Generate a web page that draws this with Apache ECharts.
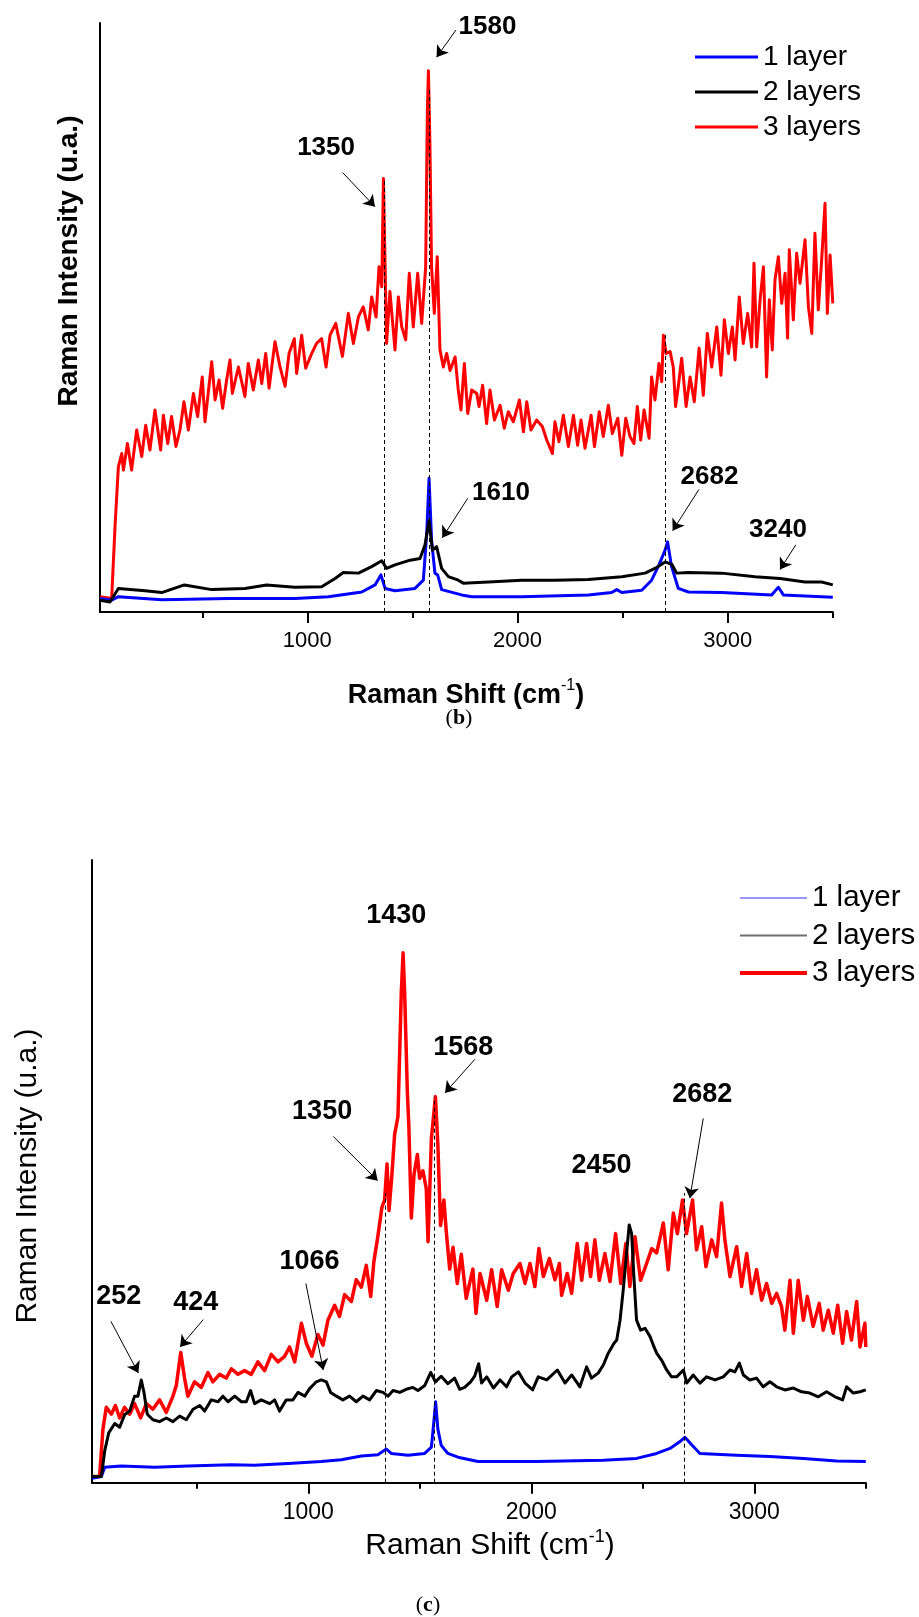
<!DOCTYPE html>
<html>
<head>
<meta charset="utf-8">
<title>Raman spectra (b) and (c)</title>
<script src="https://cdn.jsdelivr.net/npm/echarts@6/dist/echarts.min.js"></script>
<style>
  html, body { margin: 0; padding: 0; background: #fff; }
  #chart { width: 919px; height: 1617px; }
</style>
</head>
<body>
<div id="chart"></div>
<script>
  // ---------- data (x: Raman shift cm-1, y: intensity, arbitrary 0-100) ----------
  const seriesNames = ['1 layer', '2 layers', '3 layers'];
  const majorTicks = [1000, 2000, 3000];
  const minorTicks = [500, 1500, 2500, 3500];

  // panel (b)
  const b1Layer = [[13.5,2.3],[69,2],[101,2.6],[307,2.1],[624,2.3],[941,2.3],[1100,2.6],[1259,3.4],[1322,4.6],[1350,6.3],[1370,4],[1417,3.6],[1512,4],[1552,5.4],[1568,13.4],[1579,22.7],[1591,12.2],[1607,6.6],[1620,6.3],[1639,3.8],[1734,2.9],[1782,2.6],[2020,2.6],[2337,2.9],[2448,3.3],[2472,3.8],[2496,3.3],[2591,3.7],[2638,5.4],[2673,8],[2702,10.5],[2714,11.9],[2733,7.7],[2765,4],[2813,3.4],[2971,3.3],[3209,2.9],[3241,4.2],[3265,2.9],[3368,2.7],[3500,2.5]];
  const b2Layers = [[13.5,2],[61,1.7],[101,4],[228,3.6],[307,3.3],[415,4.6],[545,3.8],[703,4],[806,4.6],[941,4.2],[1068,4.3],[1132,5.7],[1171,6.7],[1243,6.6],[1306,7.7],[1354,8.7],[1377,7.4],[1417,8],[1489,8.8],[1536,9.1],[1560,11.4],[1579,15.5],[1595,10.5],[1615,11.1],[1639,7.4],[1671,6],[1718,5.4],[1742,4.9],[1861,5.1],[2020,5.4],[2178,5.4],[2337,5.5],[2496,6],[2607,6.6],[2654,7.4],[2702,8.5],[2734,8.1],[2757,6.6],[2813,6.7],[2971,6.6],[3130,6],[3249,5.7],[3368,5.1],[3447,5.1],[3500,4.6]];
  const b3Layers = [[13.5,2.6],[69,2.3],[85,14.5],[101,24.7],[117,26.9],[125,24.1],[144,28.6],[164,24.1],[188,30.9],[212,26.4],[231,31.7],[251,27.5],[275,34.3],[302,27.5],[315,33.4],[336,28.6],[354,33.2],[375,28.1],[394,30.9],[413,35.7],[434,30.9],[458,37.1],[478,33.2],[500,39.9],[513,32.3],[545,42.5],[561,36],[580,39.4],[597,34.6],[616,39.4],[632,42.8],[643,37.1],[672,41.6],[703,36.6],[719,42.2],[743,37.7],[767,42.8],[783,38.8],[802,43.9],[818,38],[846,45.9],[870,41.6],[894,38.3],[913,43.9],[938,46.4],[949,40.5],[973,47],[992,41.4],[1021,43.9],[1044,45.6],[1068,46.4],[1089,41.6],[1108,47],[1135,49],[1167,43.4],[1195,50.7],[1219,45.6],[1243,50.1],[1266,51.8],[1290,47.9],[1306,53.5],[1327,50.1],[1341,58.6],[1354,55.2],[1362,73.6],[1368,73.6],[1377,45.6],[1393,54.4],[1417,44.5],[1433,53.5],[1449,48.4],[1468,46.2],[1485,57.5],[1504,48.4],[1525,57.5],[1544,49],[1563,58.6],[1571,85],[1576,91.9],[1583,80],[1591,58.6],[1604,50.7],[1618,60.3],[1631,44.5],[1647,41.6],[1663,43.9],[1679,41],[1703,43.3],[1718,37.7],[1731,34.3],[1747,42.2],[1763,33.7],[1782,37.7],[1806,37.1],[1817,34.9],[1834,38.5],[1853,32],[1869,37.7],[1890,32.6],[1917,35.1],[1937,31.2],[1956,34],[1980,32.3],[2009,36],[2028,30.6],[2044,35.7],[2064,30.9],[2091,32.6],[2118,31.5],[2139,29.2],[2166,26.9],[2178,32.3],[2197,28.9],[2218,33.4],[2242,28.1],[2266,33.4],[2286,28.3],[2302,32.6],[2321,27.8],[2350,33.4],[2366,28.1],[2389,34],[2408,29.8],[2432,35.1],[2451,30.3],[2477,32.9],[2496,26.6],[2515,32.9],[2535,29.8],[2554,28.6],[2570,34.9],[2586,29.2],[2602,34.3],[2626,29.5],[2638,39.9],[2654,36],[2673,42.2],[2686,39.1],[2694,47],[2707,43.9],[2726,44.2],[2741,41.6],[2752,34.9],[2765,38.3],[2781,43.1],[2802,34.9],[2821,39.9],[2841,35.7],[2864,44.8],[2884,36.8],[2903,47.3],[2924,41.6],[2948,48.4],[2968,40.2],[2984,49.6],[3003,43.9],[3022,48.4],[3035,42.8],[3055,53.5],[3074,45.6],[3095,50.7],[3114,45],[3125,59.2],[3138,45],[3154,53],[3170,58.6],[3185,39.9],[3198,53],[3212,44.5],[3225,56.4],[3241,60.3],[3257,52.4],[3273,57.5],[3285,46.5],[3293,61.5],[3312,49.6],[3328,60.9],[3344,55.8],[3368,63.2],[3384,51.8],[3400,47.3],[3415,64.3],[3431,51.3],[3447,59.8],[3463,69.4],[3474,50.7],[3487,60.6],[3500,52.4]];

  // panel (c)
  const c1Layer = [[30,0.7],[72,1],[87,2.5],[161,2.7],[311,2.5],[460,2.7],[655,2.9],[759,2.8],[909,3.1],[1058,3.4],[1148,3.7],[1238,4.3],[1312,4.5],[1350,5.4],[1372,4.7],[1447,4.4],[1522,4.7],[1552,5.7],[1563,9.8],[1571,13],[1581,8.6],[1596,6],[1626,4.7],[1671,4.1],[1761,3.4],[2024,3.4],[2323,3.6],[2472,3.9],[2562,4.7],[2622,5.5],[2667,6.6],[2689,7.3],[2719,6.1],[2756,4.7],[2921,4.4],[3070,4.2],[3220,3.9],[3369,3.5],[3500,3.4]];
  const c2Layers = [[30,1],[72,1],[87,5.1],[105,8],[132,9.5],[154,8.9],[176,10.9],[199,11.5],[221,13.9],[236,13.9],[251,16.5],[263,14.5],[278,11],[303,10.1],[333,9.8],[363,10.4],[393,9.8],[423,10.7],[453,10.1],[483,11.8],[513,12.4],[535,11.5],[565,13.3],[595,13],[617,13.9],[640,13],[670,13.9],[700,13],[722,13],[741,14.8],[759,12.7],[789,13.3],[827,12.7],[849,13.3],[871,11.5],[901,13.3],[931,13.3],[954,14.5],[984,13.9],[1006,15.1],[1036,16.2],[1058,16.5],[1081,16.2],[1100,14.5],[1126,13.9],[1155,13.3],[1185,13.9],[1215,13],[1245,13.9],[1275,13.3],[1305,14.8],[1335,14.5],[1357,13.9],[1380,14.8],[1410,14.5],[1439,15],[1469,15.3],[1492,14.8],[1522,15.6],[1549,17.7],[1570,16.2],[1596,17.1],[1626,15.9],[1656,16.8],[1679,15],[1701,15.3],[1728,16.2],[1746,17.1],[1764,19.1],[1777,16],[1800,17],[1830,15.2],[1860,16.5],[1889,15.4],[1912,17],[1942,17.8],[1972,16],[2006,14.9],[2031,17],[2069,16.5],[2117,18.1],[2151,16],[2181,17.3],[2218,15.4],[2248,18.6],[2270,16.8],[2300,17.6],[2323,18.9],[2345,20.8],[2371,22.4],[2383,22.9],[2398,26.1],[2412,30.9],[2427,36.8],[2439,41.4],[2450,40],[2460,33.1],[2472,26.1],[2490,24.5],[2510,24.8],[2532,23.5],[2547,22.1],[2562,20.8],[2584,19.7],[2607,18.1],[2629,17],[2652,17],[2682,18.1],[2697,16],[2726,17.3],[2756,16],[2786,17],[2824,16.5],[2861,17],[2891,18.1],[2913,17.8],[2933,19.2],[2951,17.3],[2980,16.5],[3010,16.8],[3040,15.4],[3070,16.2],[3100,15.4],[3137,14.9],[3175,15.2],[3212,14.6],[3249,14.4],[3287,13.8],[3324,14.6],[3362,13.8],[3396,13.3],[3414,15.4],[3444,14.4],[3474,14.6],[3500,14.9]];
  const c3Layers = [[30,1],[64,1],[79,8.6],[94,12.1],[117,11],[135,12.4],[154,10.4],[176,12.1],[199,11],[221,12.7],[248,10.4],[274,12.7],[303,11.8],[333,13.3],[363,11.3],[393,13.9],[408,15.6],[428,20.9],[445,16.8],[460,13.9],[490,16.2],[520,15.3],[550,17.7],[572,16.2],[602,17.4],[632,16.8],[655,18.3],[685,17.4],[714,18],[744,17.4],[774,19.4],[804,18],[834,20.6],[864,19.4],[894,20.3],[916,21.8],[939,19.4],[969,25.6],[991,22.4],[1016,20.3],[1043,23.8],[1066,22.1],[1088,26.1],[1118,28.5],[1140,26.7],[1163,30.2],[1193,29.1],[1215,32.6],[1238,31.4],[1260,34.9],[1280,29.9],[1294,35.5],[1312,39.6],[1330,44.2],[1342,45.4],[1353,51.2],[1362,43.7],[1375,49.5],[1387,55.9],[1402,58.8],[1417,78.7],[1425,85.1],[1432,78.7],[1444,62.9],[1451,57.1],[1462,42.5],[1474,49.5],[1489,52.7],[1499,48.9],[1514,50.1],[1529,47.2],[1537,38.7],[1552,55.3],[1570,62],[1581,54.2],[1593,41.3],[1608,45.4],[1619,40.2],[1634,34.3],[1649,37.8],[1668,32],[1686,36.7],[1708,29.6],[1738,34.3],[1752,27.2],[1770,33.6],[1800,29.3],[1822,34.2],[1847,28.3],[1867,34.2],[1897,30.9],[1919,33.6],[1949,35.2],[1972,32],[1994,35.2],[2016,31.5],[2034,37.6],[2054,33.1],[2081,36],[2106,32.6],[2126,35.2],[2136,30.1],[2161,33.6],[2181,30.4],[2206,38.4],[2226,32.5],[2248,38.4],[2266,33.1],[2285,39],[2305,32.5],[2330,36.8],[2353,32.3],[2378,40],[2401,32],[2424,38.4],[2442,31.5],[2465,39.5],[2490,32.5],[2517,35.2],[2540,37.6],[2562,36.9],[2592,41.7],[2614,34.2],[2637,43.3],[2655,40],[2678,45.4],[2696,40],[2723,45.4],[2741,37.4],[2764,41.1],[2783,34.7],[2809,39],[2831,36.3],[2853,44.9],[2868,39],[2891,33.1],[2921,37.9],[2943,31.5],[2966,36.8],[2988,30.4],[3010,34.2],[3033,29.3],[3055,32],[3078,28.8],[3100,30.4],[3122,28.3],[3137,24.5],[3160,32.5],[3175,24],[3197,32.5],[3220,26.1],[3238,29.9],[3264,25.1],[3291,28.8],[3309,24.5],[3332,27.7],[3354,24],[3374,28.5],[3396,22.4],[3414,27.5],[3436,22.9],[3459,29.1],[3474,21.8],[3496,25.6],[3500,21.8]];

  // peak annotations: [text, x, y] ; arrows: [from, to] ; dashed guides: [x, top]
  const bTags = [['1350',1089,78.8],['1580',1857,99.4],['1610',1921,20.2],['2682',2913,23.0],['3240',3239,13.9]];
  const bArrows = [[[1168,74.6],[1322,68.8]],[[1707,98.8],[1615,94.2]],[[1763,19.3],[1642,12.6]],[[2863,20.8],[2738,13.8]],[[3324,11.4],[3249,7.2]]];
  const bGuides = [[1366,73.3],[1579,88.6],[2705,47.0]];
  const cTags = [['1430',1394,91.1],['1350',1062,59.6],['1568',1695,69.9],['2450',2315,51.0],['2682',2767,62.4],['252',150,29.9],['424',495,29.0],['1066',1005,35.5]];
  const cArrows = [[[1112,55.6],[1311,48.5]],[[1747,68.0],[1613,62.6]],[[2771,58.5],[2711,45.7]],[[115,25.9],[238,17.6]],[[529,26.2],[425,21.8]],[[989,32.0],[1067,18.1]]];
  const cGuides = [[1344,46.5],[1563,62.0],[2686,46.5]];

  // ---------- chart ----------
  const FONT = "'Liberation Sans', Arial, Helvetica, sans-serif";
  const SERIF = "'Liberation Serif', 'DejaVu Serif', serif";
  const colors = {'1 layer': '#0000ff', '2 layers': '#000000', '3 layers': '#ff0000'};

  function xAxisPair(gi, min, labelSize) {
    // minor ticks on one axis, major ticks + labels on an overlaid one
    const base = {
      type: 'value', gridIndex: gi, min: min, max: 3500, position: 'bottom',
      splitLine: {show: false}
    };
    return [
      Object.assign({}, base, {
        axisLine: {show: true, lineStyle: {color: '#000', width: 2}},
        axisTick: {show: true, customValues: minorTicks, length: 6, lineStyle: {color: '#000', width: 2}},
        axisLabel: {show: false}
      }),
      Object.assign({}, base, {
        axisLine: {show: false},
        axisTick: {show: true, customValues: majorTicks, length: 11, lineStyle: {color: '#000', width: 2}},
        axisLabel: {show: true, customValues: majorTicks, margin: 18, fontSize: labelSize, color: '#000', fontFamily: FONT,
          formatter: v => String(v)}
      })
    ];
  }

  function yAxis(gi) {
    return {
      type: 'value', gridIndex: gi, min: 0, max: 100,
      axisLine: {show: true, lineStyle: {color: '#000', width: 2}},
      axisTick: {show: false}, axisLabel: {show: false}, splitLine: {show: false}
    };
  }

  function curve(name, data, width, xi, yi, guides) {
    const s = {
      name: name, type: 'line', data: data, xAxisIndex: xi, yAxisIndex: yi,
      symbol: 'none', showSymbol: false, silent: true, animation: false,
      lineStyle: {color: colors[name], width: width, join: 'round'},
      itemStyle: {color: colors[name]}
    };
    if (guides) {
      s.markLine = {
        silent: true, symbol: 'none', animation: false, label: {show: false},
        lineStyle: {color: '#000', width: 1, type: [4, 3]},
        data: guides.map(g => [{coord: [g[0], 0]}, {coord: [g[0], g[1]]}])
      };
    }
    return s;
  }

  function tags(list, arrows, xi, yi, size) {
    return {
      type: 'scatter', xAxisIndex: xi, yAxisIndex: yi, silent: true, animation: false,
      symbolSize: 1, itemStyle: {color: 'rgba(255,255,255,0)'}, z: 10,
      data: list.map(t => ({name: t[0], value: [t[1], t[2]]})),
      label: {show: true, position: 'inside', formatter: '{b}', fontSize: size, fontWeight: 'bold',
        color: '#000', opacity: 1, textBorderWidth: 0, textBorderColor: 'transparent', fontFamily: FONT},
      markLine: {
        silent: true, animation: false, symbol: ['none', 'arrow'], symbolSize: 11,
        label: {show: false},
        lineStyle: {color: '#000', width: 1, type: 'solid'},
        data: arrows.map(a => [{coord: a[0]}, {coord: a[1]}])
      }
    };
  }

  // legend key drawn as a flat bar of the given thickness
  function key(name, len, thick, color) {
    return {name: name, icon: 'path://M0,0H' + len + 'V' + thick + 'H0Z', itemStyle: {color: color, borderWidth: 0}};
  }

  const chart = echarts.init(document.getElementById('chart'), null, {renderer: 'canvas'});

  const option = {
    backgroundColor: '#fff',
    animation: false,
    grid: [
      {left: 100, top: 23, width: 732.8, height: 589, outerBoundsMode: 'none'},
      {left: 92, top: 860, width: 773.8, height: 622.7, outerBoundsMode: 'none'}
    ],
    xAxis: [].concat(xAxisPair(0, 13.5, 22), xAxisPair(1, 30, 23)),
    yAxis: [yAxis(0), yAxis(1)],
    legend: [
      {
        orient: 'vertical', left: 690, top: 38, itemWidth: 63, itemHeight: 28, itemGap: 7,
        symbolKeepAspect: true, selectedMode: false,
        textStyle: {fontSize: 28, color: '#000', fontFamily: FONT},
        data: seriesNames.map(n => key(n, 63, 3, colors[n]))
      },
      {
        orient: 'vertical', left: 735, top: 878, itemWidth: 67, itemHeight: 29, itemGap: 7.5,
        symbolKeepAspect: true, selectedMode: false,
        textStyle: {fontSize: 29.5, color: '#000', fontFamily: FONT},
        data: [key('1 layer', 67, 1.2, '#3030ff'), key('2 layers', 67, 2.2, '#707070'), key('3 layers', 67, 4, '#ff0000')]
      }
    ],
    graphic: [
      {type: 'text', x: 69, y: 261, rotation: Math.PI / 2,
        style: {text: 'Raman Intensity (u.a.)', fontSize: 28, fontWeight: 'bold', fontFamily: FONT, fill: '#000', align: 'center', verticalAlign: 'middle'}},
      {type: 'text', x: 466, y: 696,
        style: {text: '{t|Raman Shift (cm}{s|-1}{t|)}', align: 'center', verticalAlign: 'middle', fill: '#000',
          rich: {t: {fontSize: 27, fontWeight: 'bold', fontFamily: FONT, lineHeight: 36},
                 s: {fontSize: 16, fontFamily: FONT, lineHeight: 16, verticalAlign: 'top'}}}},
      {type: 'text', x: 459, y: 718,
        style: {text: '({b|b})', fontSize: 22, fontFamily: SERIF, fill: '#000', align: 'center', verticalAlign: 'middle',
          rich: {b: {fontSize: 22, fontWeight: 'bold', fontFamily: SERIF}}}},
      {type: 'text', x: 28, y: 1176, rotation: Math.PI / 2,
        style: {text: 'Raman Intensity (u.a.)', fontSize: 30, fontFamily: FONT, fill: '#000', align: 'center', verticalAlign: 'middle'}},
      {type: 'text', x: 490, y: 1546,
        style: {text: '{t|Raman Shift (cm}{s|-1}{t|)}', align: 'center', verticalAlign: 'middle', fill: '#000',
          rich: {t: {fontSize: 30, fontFamily: FONT, lineHeight: 36},
                 s: {fontSize: 18, fontFamily: FONT, lineHeight: 18, verticalAlign: 'top'}}}},
      {type: 'text', x: 428, y: 1605,
        style: {text: '({c|c})', fontSize: 22, fontFamily: SERIF, fill: '#000', align: 'center', verticalAlign: 'middle',
          rich: {c: {fontSize: 22, fontWeight: 'bold', fontFamily: SERIF}}}}
    ],
    series: [
      // panel (b): red first, then blue, black on top
      curve('3 layers', b3Layers, 3, 0, 0, bGuides),
      curve('1 layer', b1Layer, 3, 0, 0),
      curve('2 layers', b2Layers, 3, 0, 0),
      tags(bTags, bArrows, 0, 0, 26),
      // panel (c)
      curve('3 layers', c3Layers, 3.5, 2, 1, cGuides),
      curve('1 layer', c1Layer, 3, 2, 1),
      curve('2 layers', c2Layers, 3, 2, 1),
      tags(cTags, cArrows, 2, 1, 27)
    ]
  };

  chart.setOption(option);
</script>
</body>
</html>
